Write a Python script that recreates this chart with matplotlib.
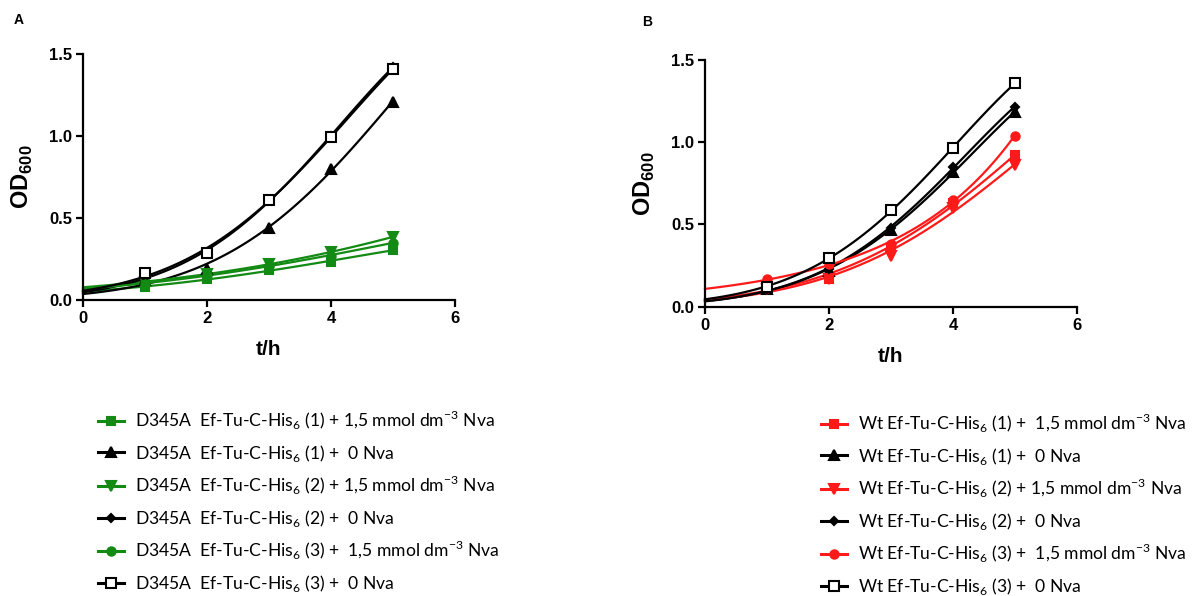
import numpy as np
import matplotlib
matplotlib.use("Agg")
import matplotlib.pyplot as plt

plt.rcParams['font.family'] = ['Liberation Sans', 'DejaVu Sans']

# time points (h)
t = [1, 2, 3, 4, 5]

# panel A: D345A mutant
a_sq_nva = [0.08, 0.126, 0.183, 0.234, 0.305]     # (1) + Nva
a_tri_0 = [0.12, 0.19, 0.44, 0.797, 1.21]         # (1) + 0
a_vtri_nva = [0.11, 0.16, 0.22, 0.29, 0.386]      # (2) + Nva
a_dia_0 = [0.14, 0.29, 0.61, 1.0, 1.42]           # (2) + 0
a_circ_nva = [0.10, 0.15, 0.21, 0.27, 0.35]       # (3) + Nva
a_osq_0 = [0.163, 0.289, 0.61, 0.996, 1.407]      # (3) + 0

# panel B: wild type
b_sq_nva = [0.12, 0.17, 0.36, 0.63, 0.92]
b_tri_0 = [0.11, 0.22, 0.466, 0.82, 1.185]
b_vtri_nva = [0.11, 0.17, 0.31, 0.60, 0.86]
b_dia_0 = [0.11, 0.227, 0.48, 0.85, 1.216]
b_circ_nva = [0.166, 0.26, 0.38, 0.65, 1.04]
b_osq_0 = [0.12, 0.294, 0.588, 0.963, 1.36]

his = r'Ef-Tu-C-His$_{\mathregular{6}}$'
nva = r'1,5 mmol dm$^{\mathregular{-3}}$ Nva'
labels_a = ['D345A  ' + his + ' (1) + ' + nva,
            'D345A  ' + his + ' (1) +  0 Nva',
            'D345A  ' + his + ' (2) + ' + nva,
            'D345A  ' + his + ' (2) +  0 Nva',
            'D345A  ' + his + ' (3) +  ' + nva,
            'D345A  ' + his + ' (3) +  0 Nva']
labels_b = ['Wt ' + his + ' (1) +  ' + nva,
            'Wt ' + his + ' (1) +  0 Nva',
            'Wt ' + his + ' (2) + ' + nva,
            'Wt ' + his + ' (2) +  0 Nva',
            'Wt ' + his + ' (3) +  ' + nva,
            'Wt ' + his + ' (3) +  0 Nva']

green = '#138a13'
red = '#ff1a1a'

fig = plt.figure(figsize=(11.97, 5.96), dpi=100)
W, H = 1197, 596
axA = fig.add_axes([83 / W, 1 - 300 / H, 372 / W, 246 / H])
axB = fig.add_axes([705 / W, 1 - 306.7 / H, 372 / W, 246.7 / H])

tt = np.linspace(0, 5, 100)


def draw(ax, y, color, marker, filled=True, ms=6):
    # smooth growth curve: quadratic fit of log(OD), weighted by OD
    coef = np.polyfit(t, np.log(y), 2, w=np.array(y))
    ax.plot(tt, np.exp(np.polyval(coef, tt)), color=color, lw=1.6, clip_on=False)
    mfc = color if filled else 'white'
    ax.plot(t, y, ls='none', marker=marker, color=color, mfc=mfc,
            ms=ms, mew=1.5, clip_on=False, zorder=3)
    h, = ax.plot([], [], color=color, lw=2.2, marker=marker, mfc=mfc,
                 ms=ms, mew=1.5)
    return h


hA = [draw(axA, a_sq_nva, green, 's'),
      draw(axA, a_tri_0, 'black', '^', ms=6.5),
      draw(axA, a_vtri_nva, green, 'v', ms=6.5),
      draw(axA, a_dia_0, 'black', 'D', ms=4.5),
      draw(axA, a_circ_nva, green, 'o'),
      draw(axA, a_osq_0, 'black', 's', filled=False, ms=7.5)]

hB = [draw(axB, b_sq_nva, red, 's'),
      draw(axB, b_tri_0, 'black', '^', ms=6.5),
      draw(axB, b_vtri_nva, red, 'v', ms=6.5),
      draw(axB, b_dia_0, 'black', 'D', ms=4.5),
      draw(axB, b_circ_nva, red, 'o'),
      draw(axB, b_osq_0, 'black', 's', filled=False, ms=7.5)]

for ax in (axA, axB):
    ax.set_xlim(0, 6)
    ax.set_ylim(0, 1.5)
    ax.set_xticks([0, 2, 4, 6])
    ax.set_yticks([0, 0.5, 1.0, 1.5])
    ax.set_yticklabels(['0.0', '0.5', '1.0', '1.5'])
    ax.spines['top'].set_visible(False)
    ax.spines['right'].set_visible(False)
    for s in ('left', 'bottom'):
        ax.spines[s].set_linewidth(1.6)
    ax.tick_params(direction='out', length=5, width=1.6, labelsize=12, pad=3)
    for lab in ax.get_xticklabels() + ax.get_yticklabels():
        lab.set_fontweight('bold')
    ax.set_xlabel('t/h', fontsize=15, fontweight='bold', labelpad=10)
    ax.set_ylabel(r'OD$_{\mathregular{600}}$', fontsize=17, fontweight='bold', labelpad=10)

fig.text(14 / W, 1 - 20 / H, 'A', fontsize=10, fontweight='bold', va='center')
fig.text(642 / W, 1 - 22 / H, 'B', fontsize=10, fontweight='bold', va='center')

leg_kw = dict(loc='upper left', frameon=False, handlelength=1.5,
              handletextpad=0.6, labelspacing=0.6, borderpad=0, borderaxespad=0,
              prop={'family': ['Lato', 'DejaVu Sans'], 'size': 12.6})
fig.legend(hA, labels_a, bbox_to_anchor=(98 / W, 1 - 409 / H), **leg_kw)
fig.legend(hB, labels_b, bbox_to_anchor=(821 / W, 1 - 412 / H), **leg_kw)

fig.savefig('out.png', dpi=100)
